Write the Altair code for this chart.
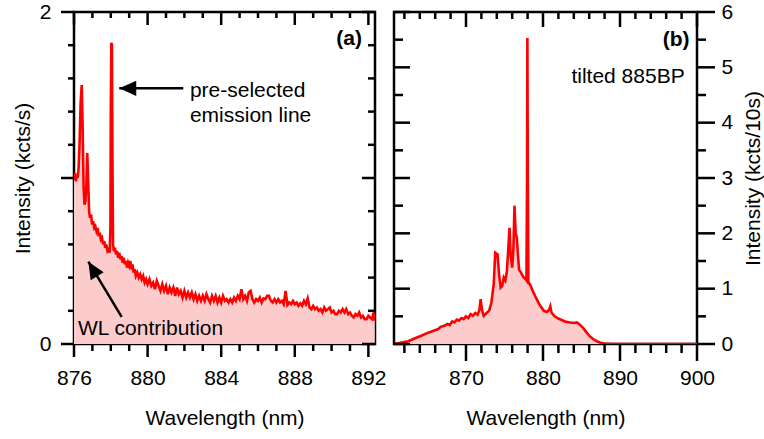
import altair as alt
import pandas as pd

# ---------------- panel (a): spectrum without filter ----------------
wl_a = [876.00, 876.05, 876.10, 876.15, 876.20, 876.25, 876.30, 876.36, 876.42, 876.47,
        876.52, 876.57, 876.62, 876.67, 876.72, 876.77, 876.82, 876.87, 876.93, 876.98,
        877.04, 877.10, 877.16, 877.22, 877.28, 877.34, 877.40, 877.46, 877.52, 877.58,
        877.64, 877.70, 877.76, 877.82, 877.88, 877.94, 877.98, 878.00, 878.03, 878.06,
        878.09, 878.12, 878.17, 878.22, 878.28, 878.34, 878.40, 878.46, 878.52, 878.58,
        878.64, 878.70, 878.76, 878.82, 878.88, 878.94, 879.00, 879.06, 879.12, 879.18,
        879.24, 879.30, 879.36, 879.44, 879.52, 879.60, 879.68, 879.76, 879.84, 879.92,
        880.00, 880.10, 880.20, 880.30, 880.40, 880.50, 880.60, 880.70, 880.80, 880.90,
        881.00, 881.10, 881.20, 881.30, 881.40, 881.50, 881.60, 881.70, 881.80, 881.90,
        882.00, 882.10, 882.20, 882.30, 882.40, 882.50, 882.60, 882.70, 882.80, 882.90,
        883.00, 883.10, 883.20, 883.30, 883.40, 883.50, 883.60, 883.70, 883.80, 883.90,
        884.00, 884.10, 884.20, 884.30, 884.40, 884.50, 884.60, 884.70, 884.80, 884.90,
        885.00, 885.10, 885.20, 885.30, 885.40, 885.50, 885.60, 885.70, 885.80, 885.90,
        886.00, 886.10, 886.20, 886.30, 886.40, 886.50, 886.60, 886.70, 886.80, 886.90,
        887.00, 887.10, 887.20, 887.30, 887.40, 887.50, 887.60, 887.70, 887.80, 887.90,
        888.00, 888.10, 888.20, 888.30, 888.40, 888.50, 888.60, 888.70, 888.80, 888.90,
        889.00, 889.10, 889.20, 889.30, 889.40, 889.50, 889.60, 889.70, 889.80, 889.90,
        890.00, 890.10, 890.20, 890.30, 890.40, 890.50, 890.60, 890.70, 890.80, 890.90,
        891.00, 891.10, 891.20, 891.30, 891.40, 891.50, 891.60, 891.70, 891.80, 891.90,
        892.00, 892.10, 892.20, 892.28, 892.35]
int_a = [0.99, 1.03, 0.98, 1.02, 1.00, 1.06, 1.20, 1.45, 1.56, 1.30,
         0.95, 0.84, 0.86, 0.95, 1.15, 0.98, 0.80, 0.76, 0.78, 0.72,
         0.74, 0.70, 0.71, 0.68, 0.70, 0.65, 0.67, 0.63, 0.64, 0.60,
         0.62, 0.58, 0.60, 0.56, 0.57, 0.55, 0.70, 1.40, 1.815, 1.80,
         1.10, 0.60, 0.56, 0.58, 0.54, 0.56, 0.52, 0.55, 0.51, 0.53,
         0.49, 0.52, 0.48, 0.50, 0.46, 0.49, 0.47, 0.50, 0.45, 0.48,
         0.43, 0.45, 0.41, 0.43, 0.40, 0.42, 0.39, 0.41, 0.37, 0.39,
         0.36, 0.39, 0.35, 0.37, 0.33, 0.38, 0.35, 0.32, 0.36, 0.32,
         0.35, 0.30, 0.34, 0.31, 0.34, 0.29, 0.34, 0.30, 0.32, 0.28,
         0.32, 0.28, 0.31, 0.28, 0.31, 0.27, 0.30, 0.26, 0.29, 0.26,
         0.29, 0.26, 0.30, 0.27, 0.25, 0.29, 0.26, 0.29, 0.25, 0.28,
         0.25, 0.29, 0.26, 0.27, 0.25, 0.27, 0.25, 0.28, 0.26, 0.29,
         0.27, 0.33, 0.27, 0.29, 0.26, 0.31, 0.32, 0.27, 0.25, 0.27,
         0.26, 0.28, 0.25, 0.275, 0.27, 0.29, 0.29, 0.26, 0.25, 0.27,
         0.25, 0.27, 0.25, 0.26, 0.24, 0.32, 0.235, 0.25, 0.24, 0.26,
         0.24, 0.25, 0.23, 0.245, 0.23, 0.26, 0.24, 0.275, 0.22, 0.21,
         0.23, 0.21, 0.22, 0.20, 0.21, 0.19, 0.22, 0.20, 0.21, 0.22,
         0.19, 0.20, 0.18, 0.18, 0.20, 0.19, 0.21, 0.19, 0.21, 0.18,
         0.19, 0.17, 0.16, 0.18, 0.17, 0.19, 0.16, 0.17, 0.15, 0.15,
         0.17, 0.16, 0.15, 0.19, 0.14]

# ---------------- panel (b): spectrum with tilted 885BP filter ----------------
wl_b = [860.65, 861.5, 862.5, 863.3, 864.2, 865.0, 865.8, 866.4, 866.7, 867.2,
        867.6, 867.9, 868.2, 868.5, 868.8, 869.1, 869.4, 869.7, 870.0, 870.3,
        870.6, 870.9, 871.2, 871.5, 871.75, 871.9, 872.1, 872.3, 872.6, 873.0,
        873.3, 873.6, 873.8, 874.1, 874.3, 874.5, 874.7, 874.9, 875.1, 875.3,
        875.45, 875.65, 875.8, 876.0, 876.15, 876.3, 876.45, 876.6, 876.75, 876.9,
        877.1, 877.3, 877.5, 877.7, 877.85, 877.93, 877.97, 878.03, 878.1, 878.4,
        878.7, 879.0, 879.3, 879.6, 880.1, 880.5, 880.8, 880.95, 881.1, 881.5,
        882.0, 882.5, 883.0, 883.5, 884.0, 884.4, 884.8, 885.2, 885.6, 886.0,
        886.5, 887.0, 887.5, 888.0, 889.0, 900.0]
int_b = [0.00, 0.02, 0.05, 0.10, 0.15, 0.20, 0.24, 0.27, 0.31, 0.33,
         0.36, 0.34, 0.41, 0.39, 0.44, 0.42, 0.47, 0.45, 0.50, 0.47,
         0.54, 0.51, 0.56, 0.53, 0.62, 0.81, 0.60, 0.51, 0.55, 0.60,
         0.75, 1.08, 1.65, 1.62, 1.25, 1.02, 1.05, 1.20, 1.15, 1.30,
         1.62, 2.10, 1.60, 1.38, 1.70, 2.50, 2.00, 1.92, 1.60, 1.34,
         1.30, 1.25, 1.20, 1.18, 1.15, 3.00, 5.53, 3.00, 1.12, 1.05,
         0.95, 0.86, 0.78, 0.70, 0.60, 0.58, 0.62, 0.68, 0.57, 0.50,
         0.46, 0.43, 0.40, 0.39, 0.38, 0.39, 0.35, 0.29, 0.22, 0.15,
         0.09, 0.05, 0.02, 0.01, 0.00, 0.00]

# ---------------- axis ranges and ticks ----------------
xa_dom = [876, 892.36]
ya_dom = [0, 2]
xb_dom = [860.65, 900]
yb_dom = [0, 6]
xa_major = [876, 880, 884, 888, 892]
xa_minor = [877, 878, 879, 881, 882, 883, 885, 886, 887, 889, 890, 891]
ya_major = [0, 1, 2]
ya_minor = [0.2, 0.4, 0.6, 0.8, 1.2, 1.4, 1.6, 1.8]
xb_major = [870, 880, 890, 900]
xb_minor = [862, 864, 866, 868, 872, 874, 876, 878, 882, 884, 886, 888, 892, 894, 896, 898]
yb_major = [0, 1, 2, 3, 4, 5, 6]
yb_minor = [0.5, 1.5, 2.5, 3.5, 4.5, 5.5]

# ---------------- annotations (data coordinates) ----------------
notes_a_x = [882.3, 882.3, 876.22]
notes_a_y = [1.488, 1.339, 0.054]
notes_a_t = ["pre-selected", "emission line", "WL contribution"]
label_a = (891.65, 1.837, "(a)")
arrow_a1 = (881.94, 1.54, 878.46, 1.54)   # tail x, tail y, tip x, tip y
arrow_a2 = (878.59, 0.164, 876.78, 0.496)
label_b = (899.04, 5.50, "(b)")
note_b = (898.4, 4.83, "tilted 885BP")

FONT = "Liberation Sans"
RED = "#ff0000"
PINK = "#fccccc"
INK = "#000000"
HEAD = "M0,0 L2,-0.9 L2,0.9 Z"
TW = 2.5


def main_axis(orient, values, label_pad, title, title_pad, fmt=None, title_angle=None,
              title_baseline=None):
    kw = dict(orient=orient, values=values, ticks=False, tickSize=0, domain=False, grid=False,
              labelFont=FONT, labelFontSize=21, labelColor=INK, labelPadding=label_pad,
              labelFlush=False, labelOverlap=False,
              title=title, titleFont=FONT, titleFontSize=21, titleFontWeight="normal",
              titleColor=INK, titlePadding=title_pad)
    if fmt:
        kw["format"] = fmt
    if title_angle is not None:
        kw["titleAngle"] = title_angle
    if title_baseline:
        kw["titleBaseline"] = title_baseline
    return alt.Axis(**kw)


def xticks(values, edge, length, xs, ys):
    d = pd.DataFrame({"v": values, "e": [edge] * len(values)})
    return alt.Chart(d).mark_rule(color=INK, strokeWidth=TW, y2Offset=length).encode(
        x=alt.X("v:Q", scale=xs, axis=None), y=alt.Y("e:Q", scale=ys, axis=None), y2="e:Q")


def yticks(values, edge, length, xs, ys):
    d = pd.DataFrame({"v": values, "e": [edge] * len(values)})
    return alt.Chart(d).mark_rule(color=INK, strokeWidth=TW, x2Offset=length).encode(
        y=alt.Y("v:Q", scale=ys, axis=None), x=alt.X("e:Q", scale=xs, axis=None), x2="e:Q")


def spectrum(wl, val, xs, ys, xaxis, yaxis):
    df = pd.DataFrame({"wl": wl, "val": val})
    base = alt.Chart(df)
    return [
        base.mark_area(color=PINK, clip=True).encode(
            x=alt.X("wl:Q", scale=xs, axis=None), y=alt.Y("val:Q", scale=ys, axis=None)),
        base.mark_line(color=RED, strokeWidth=2.6, clip=True).encode(
            x=alt.X("wl:Q", scale=xs, axis=xaxis), y=alt.Y("val:Q", scale=ys, axis=yaxis)),
    ]


def text_layer(xv, yv, tv, xs, ys, align, baseline, weight="normal"):
    d = pd.DataFrame({"x": xv, "y": yv, "t": tv})
    return alt.Chart(d).mark_text(align=align, baseline=baseline, font=FONT, fontSize=21,
                                  fontWeight=weight, color=INK).encode(
        x=alt.X("x:Q", scale=xs, axis=None), y=alt.Y("y:Q", scale=ys, axis=None), text="t:N")


def arrow_layers(arr, ang, xs, ys):
    ad = pd.DataFrame({"x": [arr[0]], "y": [arr[1]], "x2": [arr[2]], "y2": [arr[3]]})
    return [
        alt.Chart(ad).mark_rule(color=INK, strokeWidth=2.5).encode(
            x=alt.X("x:Q", scale=xs, axis=None), y=alt.Y("y:Q", scale=ys, axis=None),
            x2="x2:Q", y2="y2:Q"),
        alt.Chart(ad).mark_point(shape=HEAD, size=289, filled=True, color=INK, opacity=1,
                                 angle=ang, strokeWidth=0).encode(
            x=alt.X("x2:Q", scale=xs, axis=None), y=alt.Y("y2:Q", scale=ys, axis=None)),
    ]


# ---------------- panel (a) ----------------
xs_a = alt.Scale(domain=xa_dom, nice=False, zero=False)
ys_a = alt.Scale(domain=ya_dom, nice=False, zero=False)
layers_a = spectrum(
    wl_a, int_a, xs_a, ys_a,
    main_axis("bottom", xa_major, 23, "Wavelength (nm)", 19),
    main_axis("left", ya_major, 23, "Intensity (kcts/s)", 6, fmt="d"))
layers_a += [
    xticks(xa_major, ya_dom[0], 13, xs_a, ys_a),
    xticks(xa_minor, ya_dom[0], 7, xs_a, ys_a),
    xticks(xa_major, ya_dom[1], 13, xs_a, ys_a),
    xticks(xa_minor, ya_dom[1], 6, xs_a, ys_a),
    yticks(ya_major, xa_dom[0], -13, xs_a, ys_a),
    yticks(ya_minor, xa_dom[0], -6, xs_a, ys_a),
    yticks(ya_major, xa_dom[1], -13, xs_a, ys_a),
    yticks(ya_minor, xa_dom[1], -7, xs_a, ys_a),
    text_layer(notes_a_x, notes_a_y, notes_a_t, xs_a, ys_a, "left", "alphabetic"),
    text_layer([label_a[0]], [label_a[1]], [label_a[2]], xs_a, ys_a, "right", "middle", "bold"),
]
layers_a += arrow_layers(arrow_a1, 0, xs_a, ys_a)
layers_a += arrow_layers(arrow_a2, 58.7, xs_a, ys_a)
pa = alt.layer(*layers_a).resolve_axis(x="independent", y="independent").properties(
    width=301, height=332)

# ---------------- panel (b) ----------------
xs_b = alt.Scale(domain=xb_dom, nice=False, zero=False)
ys_b = alt.Scale(domain=yb_dom, nice=False, zero=False)
layers_b = spectrum(
    wl_b, int_b, xs_b, ys_b,
    main_axis("bottom", xb_major, 23, "Wavelength (nm)", 19),
    main_axis("right", yb_major, 24, "Intensity (kcts/10s)", 10, fmt="d",
              title_angle=270, title_baseline="top"))
layers_b += [
    xticks(xb_major, yb_dom[0], 17, xs_b, ys_b),
    xticks(xb_minor, yb_dom[0], 9, xs_b, ys_b),
    xticks(xb_major, yb_dom[1], 15, xs_b, ys_b),
    xticks(xb_minor, yb_dom[1], 7, xs_b, ys_b),
    yticks(yb_major, xb_dom[0], 16, xs_b, ys_b),
    yticks(yb_minor, xb_dom[0], 9, xs_b, ys_b),
    yticks(yb_major, xb_dom[1], 18, xs_b, ys_b),
    yticks(yb_minor, xb_dom[1], 9, xs_b, ys_b),
    text_layer([label_b[0]], [label_b[1]], [label_b[2]], xs_b, ys_b, "right", "middle", "bold"),
    text_layer([note_b[0]], [note_b[1]], [note_b[2]], xs_b, ys_b, "right", "middle"),
]
pb = alt.layer(*layers_b).resolve_axis(x="independent", y="independent").properties(
    width=303, height=332)

chart = alt.hconcat(pa, pb, spacing=19, bounds="flush").configure_view(
    stroke=INK, strokeWidth=2.5).properties(
    autosize=alt.AutoSizeParams(type="none"),
    padding={"left": 74, "top": 12, "right": 690, "bottom": 427},
    background="white")

chart.save("out.html", embed_options={"renderer": "svg", "actions": False})
